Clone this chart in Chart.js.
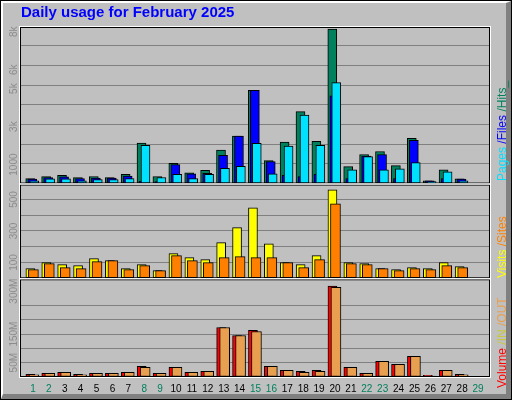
<!DOCTYPE html>
<html><head><meta charset="utf-8">
<script src="https://cdn.jsdelivr.net/npm/chart.js@4"></script>
<style>
html,body{margin:0;padding:0;background:#fff;}
#wrap{position:relative;width:510px;height:398px;border:1px solid #000;background:#C0C0C0;}
#inner{position:absolute;left:0;top:0;width:503px;height:391px;border-left:2px solid #fff;border-top:2px solid #fff;border-right:5px solid #808080;border-bottom:5px solid #808080;}
#title{position:absolute;left:20px;top:2px;font:bold 15px "Liberation Sans",Arial,sans-serif;color:#0000FF;}
canvas{position:absolute;left:0;top:0;}
.leg{position:absolute;transform:rotate(-90deg);transform-origin:left top;font:12px "Liberation Sans",Arial,sans-serif;white-space:nowrap;}
</style></head><body>
<div id="wrap"><div id="inner"></div>
<canvas id="c" width="510" height="398"></canvas>
<div id="title">Daily usage for February 2025</div>
<div class="leg" style="left:494px;top:180px"><span style="color:#00E0FF">Pages</span><span style="color:#0000FF"> /Files</span><span style="color:#00805C"> /Hits_</span></div>
<div class="leg" style="left:494px;top:277px"><span style="color:#FFFF00">Visits</span><span style="color:#FF8000"> /Sites</span></div>
<div class="leg" style="left:494px;top:387px"><span style="color:#FF0000">Volume</span><span style="color:#C8C840"> /IN</span><span style="color:#E8A050"> /OUT</span></div>
</div>
<script>
const days = [1,2,3,4,5,6,7,8,9,10,11,12,13,14,15,16,17,18,19,20,21,22,23,24,25,26,27,28,29];
const weekend = [1,2,8,9,15,16,22,23,29];
const hits  = [267,373,427,320,373,320,480,2133,373,1067,570,693,1760,2507,4907,1210,2187,3787,2222,8140,889,1529,1689,942,2382,142,729,250,0];
const files = [230,320,355,267,283,283,390,120,100,995,517,533,1493,2507,4907,1157,427,373,480,4622,267,1450,1529,267,2275,142,267,230,0];
const pages = [144,250,250,144,213,213,267,2010,320,480,267,480,800,907,2115,517,1973,3609,2010,5315,729,1422,729,782,1102,100,622,142,0];
const visits= [61,99,87,80,125,112,61,87,49,156,131,118,226,321,447,219,99,87,144,561,99,93,61,55,68,61,99,74,0];
const sites = [55,93,68,61,106,112,55,80,49,144,112,99,131,137,131,131,99,68,118,473,93,87,61,49,61,55,80,68,0];
const volume= [9,13,16,9,13,13,16,37,13,34,16,20,173,145,163,37,23,20,23,318,34,13,55,44,72,6,23,9,0];
const kin   = [8,13,16,8,13,13,16,34,13,34,16,20,173,145,159,37,23,16,20,313,34,13,55,44,72,3,23,8,0];
const topLabels=[[1000,'1000'],[3000,'3k'],[5000,'5k'],[6000,'6k'],[8000,'8k']];
const midLabels=[[100,'100'],[300,'300'],[500,'500']];
const botLabels=[[50,'50M'],[150,'150M'],[300,'300M']];

function pts(arr,off){return days.map((d,i)=>({x:d+off,y:arr[i]}));}
function ds(arr,off,color,axis,order,th){return {data:pts(arr,off),backgroundColor:color,borderColor:'#000',borderWidth:1,borderSkipped:false,barThickness:th||9,yAxisID:axis,order:order,grouped:false};}
const grid={color:'#808080',lineWidth:1,drawTicks:false};
const yax=(max,step,w)=>({type:'linear',min:0,max:max,stack:'v',stackWeight:w,offset:false,ticks:{display:false,stepSize:step},grid:grid,border:{display:false}});

const labelsPlugin={id:'lbl',afterDraw(ch){
  const ctx=ch.ctx, a=ch.chartArea;
  ctx.save();
  ctx.font='10px "Liberation Sans",Arial,sans-serif';
  ctx.fillStyle='#8c8c8c';ctx.textAlign='center';ctx.textBaseline='middle';
  [['yT',topLabels],['yM',midLabels],['yB',botLabels]].forEach(([id,l])=>{
    const s=ch.scales[id];
    l.forEach(([v,t])=>{ctx.save();ctx.translate(13,s.getPixelForValue(v));ctx.rotate(-Math.PI/2);ctx.fillText(t,0,0);ctx.restore();});
  });
  ctx.lineWidth=1;
  [ch.scales.yT,ch.scales.yM,ch.scales.yB].forEach(s=>{
    ctx.strokeStyle='#000';ctx.strokeRect(a.left-0.5,s.top+1.5,a.right-a.left,s.bottom-s.top-2);
    ctx.strokeStyle='#fff';ctx.strokeRect(a.left-1.5,s.top+0.5,a.right-a.left+2,s.bottom-s.top);
  });
  ctx.font='10px "Liberation Sans",Arial,sans-serif';
  const x=ch.scales.x;
  days.forEach(d=>{ctx.fillStyle=weekend.includes(d)?'#00805C':'#000';ctx.fillText(String(d),x.getPixelForValue(d),388);});
  ctx.restore();
}};

new Chart(document.getElementById('c'),{type:'bar',
 data:{datasets:[
  ds(hits,-0.17,'#00805C','yT',3),
  ds(files,-0.04,'#0000FF','yT',2),
  ds(pages,0.08,'#00E0FF','yT',1),
  ds(visits,-0.16,'#FFFF00','yM',2),
  ds(sites,0.03,'#FF8000','yM',1,10),
  ds(volume,-0.16,'#FF0000','yB',2),
  ds(kin,0.06,'#E8A050','yB',1,10)
 ]},
 options:{responsive:false,animation:false,events:[],
  layout:{padding:{left:20,top:25,right:21,bottom:22}},
  plugins:{legend:{display:false},tooltip:{enabled:false}},
  scales:{
   x:{type:'linear',offset:false,min:0.25,max:29.75,ticks:{display:false},grid:{display:false,drawTicks:false},border:{display:false}},
   yB:yax(345,50,99),
   yM:yax(601,100,95),
   yT:yax(8300,1000,158)
  }},
 plugins:[labelsPlugin]});
</script></body></html>
